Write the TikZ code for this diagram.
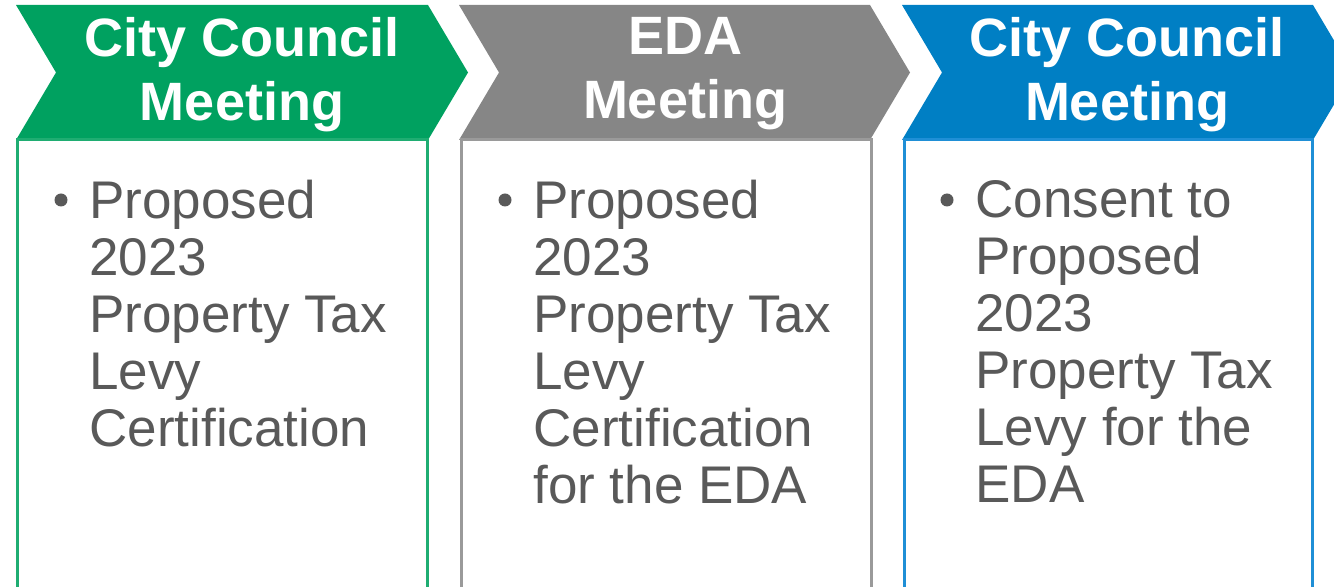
\documentclass[tikz,border=0pt]{standalone}
\usepackage{fontspec}
\setmainfont{Liberation Sans}

\definecolor{ccgreen}{HTML}{00A160}
\definecolor{ccgreenline}{HTML}{1FAD72}
\definecolor{edagray}{HTML}{868686}
\definecolor{edagrayline}{HTML}{9A9A9A}
\definecolor{ccblue}{HTML}{007FC4}
\definecolor{ccblueline}{HTML}{1F8FD6}
\definecolor{bodytext}{HTML}{595959}

\tikzset{
  head/.style={anchor=north, inner sep=0pt, align=center, text=white,
    font=\fontsize{27}{32}\selectfont\bfseries},
  body/.style={anchor=north west, inner sep=0pt, align=left, text=bodytext,
    font=\fontsize{26.5}{28.5}\selectfont},
  dot/.style={circle, fill=bodytext, inner sep=0pt, minimum size=6.5pt},
  boxline/.style={line width=1.5pt}
}

\begin{document}
\begin{tikzpicture}[x=0.5pt,y=-0.5pt]

      \clip (0,0) rectangle (1334,587);

      % chevrons
      \fill[ccgreen] (16,5) -- (428,5) -- (468,72.5) -- (428,140) -- (16,140) -- (56,72.5) -- cycle;
      \fill[edagray] (459,5) -- (870,5) -- (910,72.5) -- (870,140) -- (459,140) -- (499,72.5) -- cycle;
      \fill[ccblue] (902,5) -- (1313,5) -- (1353,72.5) -- (1313,140) -- (902,140) -- (942,72.5) -- cycle;

      % boxes
      \draw[boxline, ccgreenline] (17.5,140) rectangle (427,640);
      \draw[boxline, edagrayline] (461,140) rectangle (871,640);
      \draw[boxline, ccblueline] (904,140) rectangle (1312,640);

      \begin{scope}[every node/.style={head}]
        \node (h1) at (242,17) {City Council\\Meeting};
        \node (h2) at (685,17) {EDA\\Meeting};
        \node (h3) at (1127,17) {City Council\\Meeting};
      \end{scope}

      \begin{scope}[every node/.style={dot}]
        \node (d1) at (61,200) {};
        \node (d2) at (505,200) {};
        \node (d3) at (947,200) {};
      \end{scope}

      \begin{scope}[every node/.style={body}]
        \node (b1) at (89,180) {Proposed\\2023\\Property Tax\\Levy\\Certification};
        \node (b2) at (533,180) {Proposed\\2023\\Property Tax\\Levy\\Certification\\for the EDA};
        \node (b3) at (975,180) {Consent to\\Proposed\\2023\\Property Tax\\Levy for the\\EDA};
      \end{scope}

    \end{tikzpicture}
\end{document}
